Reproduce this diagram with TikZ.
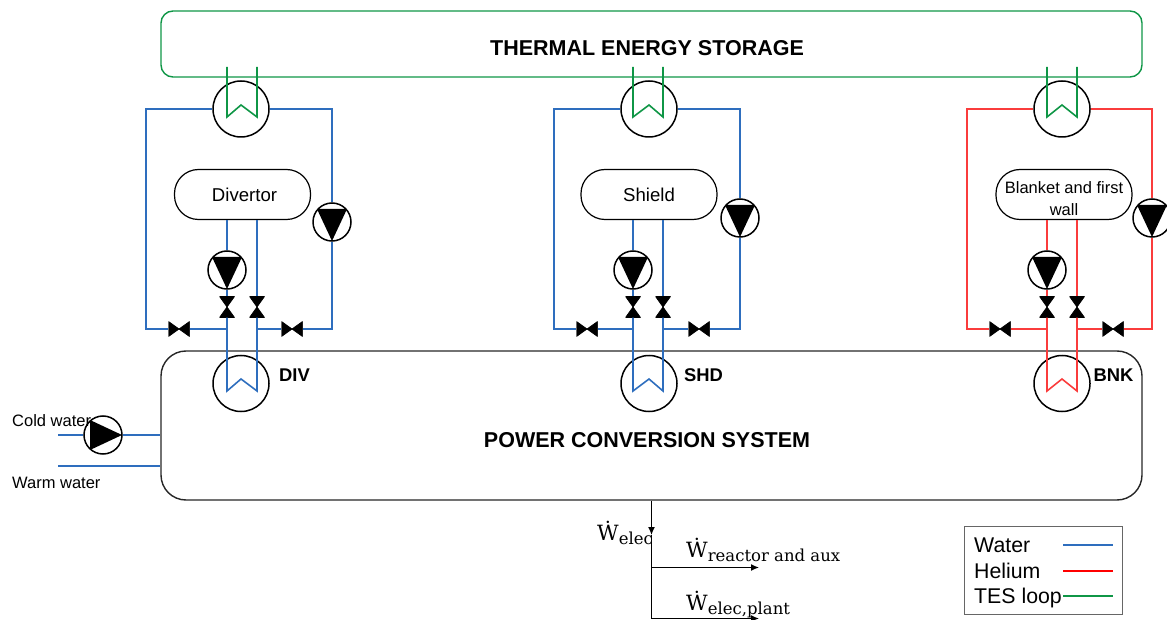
\documentclass[tikz,border=0pt]{standalone}
\usepackage{fontspec}
\setmainfont{Liberation Sans}
\newfontfamily\wfont{DejaVu Serif}
\usepackage{xcolor}
\usetikzlibrary{positioning, arrows.meta, calc}

\definecolor{waterblue}{RGB}{46,110,190}
\definecolor{heliumred}{RGB}{250,60,60}
\definecolor{tesgreen}{RGB}{15,150,70}

\def\wdot#1{{\wfont\fontsize{21}{21}\selectfont Ẇ\raisebox{-4pt}{\fontsize{16.5}{17}\selectfont #1}}}
\def\blkfont{\fontsize{16.5}{21}\selectfont}

\tikzset{
    pipe/.style={line width=1.6pt, line join=miter},
    hexch/.style={circle, draw=black, line width=1.5pt, minimum size=56pt, inner sep=0pt},
    pumpdown/.style={circle, draw=black, fill=white, line width=1.5pt, minimum size=38pt, inner sep=0pt,
        path picture={\fill[black] (-15pt,13pt) -- (15pt,13pt) -- (0pt,-19pt) -- cycle;}},
    pumpright/.style={circle, draw=black, fill=white, line width=1.5pt, minimum size=38pt, inner sep=0pt,
        path picture={\fill[black] (-13pt,15pt) -- (-13pt,-15pt) -- (19pt,0pt) -- cycle;}},
    valvev/.style={minimum width=15pt, minimum height=21pt, inner sep=0pt,
        path picture={\filldraw[black, line width=.7pt] (-7.5pt,10.5pt) -- (7.5pt,-10.5pt) -- (-7.5pt,-10.5pt) -- (7.5pt,10.5pt) -- cycle;}},
    valveh/.style={minimum width=21pt, minimum height=15pt, inner sep=0pt,
        path picture={\filldraw[black, line width=.7pt] (-10.5pt,7.5pt) -- (10.5pt,-7.5pt) -- (10.5pt,7.5pt) -- (-10.5pt,-7.5pt) -- cycle;}},
    compbox/.style={draw=black, line width=1.2pt, rounded corners=24pt, minimum width=136pt, minimum height=50pt,
        inner sep=0pt, align=center, font=\fontsize{18.6}{22}\selectfont},
    bigbox/.style={line width=1.4pt, minimum width=981pt, inner sep=0pt, font=\fontsize{21.5}{24}\bfseries\selectfont},
    tag/.style={font=\fontsize{18.4}{20}\bfseries\selectfont},
    sidetxt/.style={anchor=west, inner sep=0pt, font=\fontsize{16.5}{18}\selectfont},
    legtxt/.style={anchor=base west, inner sep=0pt, font=\fontsize{21.3}{24}\selectfont},
    elec/.style={line width=1.3pt, draw=black, >={Latex[length=8pt, width=7pt]}}
}

\begin{document}
\begin{tikzpicture}[x=1pt, y=-1pt]
    \useasboundingbox (0,0) rectangle (1167,620);

    % main boxes
    \node[bigbox, draw=tesgreen, rounded corners=12pt, minimum height=66pt] (tes) at (651.5,44) {};
    \node[bigbox, draw=black!85, rounded corners=25pt, minimum height=149pt] (pcs) at (651.5,425.5) {};
    \node[bigbox] (teslabel) at (647,48) {THERMAL ENERGY STORAGE};
    \node[bigbox] (pcslabel) at (647,440) {POWER CONVERSION SYSTEM};

    % the three loops
    \foreach \lp/\xc/\xl/\xr/\xa/\xb/\xbox/\xvl/\xvr/\ypump/\co/\tagx/\tagtxt/\boxtxt in {
        div/241/146/332/227/257/242.5/179/292/222/waterblue/294.5/DIV/{\hspace{4pt}Divertor},
        shd/649/554/740/633/663/649/587/699/218/waterblue/703.5/SHD/{\raisebox{-2pt}{Shield}},
        bnk/1062/967/1152/1047/1077/1064/1000/1113/218/heliumred/1113.5/BNK/{\blkfont\smash{\raisebox{-10pt}{Blanket and first}}\\\blkfont\smash{\raisebox{-10pt}{wall}}}}
    {
        \node[compbox] (\lp box) at (\xbox,194.5) {\boxtxt};
        \node[hexch] (\lp hxtop) at (\xc,109) {};
        \node[hexch] (\lp hxbot) at (\xc,383.5) {};
        \node[pumpdown] (\lp pumpi) at (\xa,270) {};
        \node[pumpdown] (\lp pumpo) at (\xr,\ypump) {};
        \node[valvev] (\lp va) at (\xa,307) {};
        \node[valvev] (\lp vb) at (\xb,307) {};
        \node[valveh] (\lp vl) at (\xvl,329) {};
        \node[valveh] (\lp vr) at (\xvr,329) {};
        \node[tag] (\lp tag) at (\tagx,375) {\tagtxt};

        \coordinate (\lp ja) at (\xa,329);
        \coordinate (\lp jb) at (\xb,329);
        \coordinate (\lp ua) at (\xa,391);
        \coordinate (\lp um) at (\xc,379);
        \coordinate (\lp ub) at (\xb,391);
        \coordinate (\lp ga) at (\xa,67);
        \coordinate (\lp gb) at (\xb,67);
        \coordinate (\lp gc) at (\xa,117);
        \coordinate (\lp gm) at (\xc,105);
        \coordinate (\lp gd) at (\xb,117);

        % outer pipes
        \draw[pipe, \co] (\lp hxtop.west) -| (\xl,329) -- (\lp vl.west);
        \draw[pipe, \co] (\lp vl.east) -- (\lp ja);
        \draw[pipe, \co] (\lp hxtop.east) -| (\lp pumpo.north);
        \draw[pipe, \co] (\lp pumpo.south) |- (\lp vr.east);
        \draw[pipe, \co] (\lp vr.west) -- (\lp jb);

        % inner pipes
        \draw[pipe, \co] (\lp box.south -| \lp pumpi.north) -- (\lp pumpi.north);
        \draw[pipe, \co] (\lp pumpi.south) -- (\lp va.north);
        \draw[pipe, \co] (\lp va.south) -- (\lp ua) -- (\lp um) -- (\lp ub) -- (\lp vb.south);
        \draw[pipe, \co] (\lp vb.north) -- (\lp box.south -| \lp vb.north);

        % storage side
        \draw[pipe, tesgreen] (\lp ga) -- (\lp gc) -- (\lp gm) -- (\lp gd) -- (\lp gb);
    }

    % cooling water
    \node[pumpright] (cwpump) at (103,435) {};
    \coordinate (cwin) at (58,435);
    \coordinate (cwout) at (58,466);
    \draw[pipe, waterblue] (cwin) -- (cwpump.west);
    \draw[pipe, waterblue] (cwpump.east) -- (cwpump.east -| pcs.west);
    \draw[pipe, waterblue] (cwout) -- (cwout -| pcs.west);
    \node[sidetxt] (coldtxt) at (12,421) {Cold water};
    \node[sidetxt] (warmtxt) at (12,483) {Warm water};

    % electric power
    \coordinate (jmid) at (651.5,535);
    \coordinate (jreac) at (651.5,567.5);
    \coordinate (jplant) at (651.5,618.5);
    \coordinate (reacend) at (759,567.5);
    \coordinate (plantend) at (759,618.5);
    \draw[elec, ->] (pcs.south) -- (jmid);
    \draw[elec] (jmid) -- (jreac) -- (jplant);
    \draw[elec, ->] (jreac) -- (reacend);
    \draw[elec, ->] (jplant) -- (plantend);
    \node[anchor=base west, inner sep=0pt] (welec) at (597,540) {\wdot{elec}};
    \node[anchor=base west, inner sep=0pt] (wreac) at (686,557) {\wdot{reactor and aux}};
    \node[anchor=base west, inner sep=0pt] (wplant) at (686,610) {\wdot{elec,plant}};

    % legend
    \node[draw=black!60, line width=1.2pt, minimum width=158pt, minimum height=88pt, inner sep=0pt] (legend) at (1043.7,570.5) {};
    \foreach \lname/\ltext/\ly/\lbase/\co in {
        water/Water/544.5/552/waterblue,
        helium/Helium/570.5/578/red,
        tes/TES loop/596/603/tesgreen}
    {
        \node[legtxt] (\lname txt) at (974,\lbase) {\ltext};
        \coordinate (\lname a) at (1063,\ly);
        \coordinate (\lname b) at (1113,\ly);
        \draw[\co, line width=2pt] (\lname a) -- (\lname b);
    }
\end{tikzpicture}
\end{document}
